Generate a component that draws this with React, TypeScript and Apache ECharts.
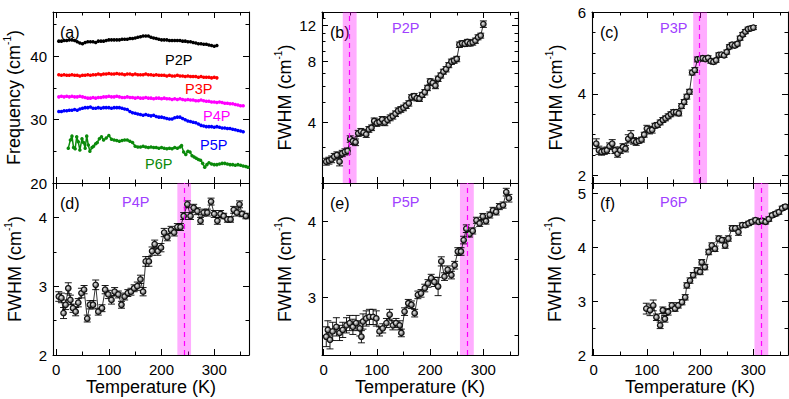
import React, { useEffect, useRef } from 'react';
import * as echarts from 'echarts';

const FONT = '"Liberation Sans", Arial, Helvetica, sans-serif';

// Temperature grid (K) used by the densely sampled series
const TEMPS = [5,10,15,20,25,30,35,40,45,50,55,60,65,70,75,80,85,90,95,100,105,110,115,120,125,130,135,140,145,150,155,160,165,170,175,180,185,190,195,200,205,210,215,220,225,230,235,240,245,250,255,260,265,270,275,280,285,290,295,300,305,310,315,320,325,330,335,340,345,350,355];

// Panel (a): frequencies (cm-1)
const P2P_FREQ = [42.4,42.4,42.5,42.5,42.6,42.6,42.5,42.3,42.1,42.0,42.2,42.3,42.3,42.3,42.2,42.4,42.4,42.4,42.5,42.6,42.6,42.6,42.6,42.6,42.7,42.7,42.7,42.8,42.8,42.9,43.0,43.1,43.2,43.2,43.2,43.0,42.9,42.8,42.7,42.6,42.6,42.6,42.5,42.5,42.5,42.5,42.5,42.4,42.4,42.3,42.3,42.2,42.1,42.0,42.0,41.9,41.9,41.8,41.7,41.6,41.7];
const P3P_FREQ = [37.1,37.0,37.1,37.0,37.0,37.1,37.0,37.0,36.9,37.0,37.0,37.1,37.0,37.1,37.1,37.2,37.1,37.2,37.2,37.3,37.2,37.2,37.3,37.2,37.2,37.1,37.2,37.2,37.1,37.2,37.1,37.1,37.1,37.2,37.1,37.1,37.0,37.1,37.0,37.0,37.0,36.9,37.0,36.9,36.9,37.0,36.9,36.9,36.8,36.9,36.8,36.8,36.8,36.7,36.8,36.7,36.7,36.7,36.6,36.7,36.6];
const P4P_FREQ = [33.6,33.7,33.6,33.7,33.6,33.7,33.6,33.6,33.7,33.6,33.5,33.4,33.4,33.5,33.4,33.5,33.5,33.6,33.6,33.7,33.6,33.6,33.7,33.6,33.5,33.5,33.6,33.5,33.5,33.4,33.5,33.4,33.4,33.5,33.4,33.4,33.3,33.4,33.4,33.3,33.4,33.3,33.3,33.2,33.3,33.2,33.3,33.2,33.1,33.2,33.1,33.1,33.0,33.0,33.1,33.0,32.9,32.9,32.8,32.8,32.7,32.8,32.7,32.6,32.6,32.5,32.5,32.4,32.3,32.2,32.2];
const P5P_FREQ = [31.3,31.3,31.4,31.4,31.5,31.5,31.6,31.5,31.7,31.8,31.9,31.9,32.0,31.8,31.8,31.9,31.8,31.9,31.9,31.9,31.8,31.9,31.9,31.9,31.8,31.7,31.6,31.3,31.1,31.0,30.9,30.8,30.7,30.8,30.7,30.6,30.7,30.5,30.4,30.4,30.3,30.2,30.1,30.1,30.3,30.4,30.4,30.2,30.0,29.8,29.7,29.6,29.5,29.3,29.1,29.0,28.9,28.9,28.9,28.8,28.9,28.8,28.7,28.7,28.6,28.6,28.5,28.4,28.3,28.2,28.1];
const P6P_FREQ = [[23,25.5],[27,26.8],[30,27.4],[33,25.6],[36,25.4],[39,27.3],[42,26.5],[45,25.2],[49,27.0],[52,26.4],[55,25.5],[58,27.4],[61,26.0],[64,25.0],[68,25.6],[71,25.8],[75,26.2],[78,26.4],[82,27.0],[86,27.3],[90,26.8],[95,27.1],[100,27.5],[105,26.9],[110,26.8],[115,26.7],[120,26.6],[125,26.7],[130,26.8],[135,26.8],[140,26.6],[145,26.4],[150,25.8],[155,25.7],[160,25.7],[165,25.8],[170,25.7],[175,25.6],[180,25.7],[185,25.6],[190,25.6],[195,25.5],[200,25.6],[205,25.5],[210,25.4],[215,25.5],[220,25.4],[225,25.6],[230,25.5],[235,25.7],[238,25.9],[242,24.9],[246,24.5],[250,25.0],[254,24.9],[258,24.3],[262,24.1],[266,23.9],[270,23.7],[274,23.6],[278,23.1],[282,22.5],[286,22.9],[290,23.2],[295,23.0],[300,22.9],[305,22.9],[310,23.0],[315,23.1],[320,23.1],[325,23.0],[330,22.9],[335,22.9],[340,22.8],[345,22.9],[350,22.8],[355,22.7],[360,22.6],[364,22.5]];

// Panel (b): P2P FWHM and error (on TEMPS, 5..300 K)
const P2P_FWHM = [2.55,2.58,2.62,2.70,2.75,2.55,2.80,2.85,2.88,3.30,3.22,3.18,3.52,3.60,3.55,3.48,3.68,3.75,4.05,3.95,4.00,4.12,3.98,4.10,4.20,4.28,4.40,4.55,4.62,4.70,4.82,4.95,5.30,5.38,5.25,5.22,5.45,5.62,5.90,6.35,6.25,6.05,6.55,6.80,7.10,7.30,7.65,7.95,8.05,8.20,9.65,9.80,9.75,9.95,9.80,9.90,10.10,10.50,10.70,12.20];
const P2P_ERR = [0.1,0.1,0.1,0.1,0.1,0.12,0.1,0.1,0.1,0.12,0.12,0.12,0.12,0.12,0.12,0.12,0.12,0.12,0.14,0.14,0.14,0.14,0.14,0.14,0.14,0.14,0.14,0.15,0.15,0.15,0.15,0.15,0.16,0.16,0.16,0.16,0.16,0.17,0.18,0.2,0.2,0.2,0.2,0.2,0.2,0.22,0.22,0.24,0.24,0.25,0.3,0.3,0.3,0.3,0.3,0.3,0.3,0.3,0.3,0.45];

// Panel (c): P3P FWHM and error (on TEMPS, 5..300 K)
const P3P_FWHM = [2.78,2.62,2.58,2.60,2.62,2.72,2.78,2.62,2.53,2.62,2.70,2.66,2.90,2.98,2.85,2.82,2.85,2.88,3.00,3.15,3.10,3.12,3.22,3.24,3.30,3.36,3.40,3.45,3.50,3.55,3.55,3.52,3.70,3.80,3.93,4.05,4.52,4.58,4.84,4.86,4.87,4.85,4.88,4.80,4.78,4.82,4.95,4.96,4.94,5.02,5.15,5.20,5.18,5.22,5.36,5.45,5.52,5.58,5.60,5.62];
const P3P_ERR = [0.12,0.1,0.08,0.08,0.08,0.08,0.1,0.08,0.08,0.08,0.08,0.08,0.1,0.12,0.08,0.08,0.06,0.06,0.06,0.08,0.08,0.08,0.06,0.06,0.06,0.06,0.06,0.06,0.06,0.06,0.06,0.06,0.06,0.06,0.06,0.06,0.06,0.06,0.06,0.05,0.05,0.05,0.05,0.05,0.05,0.05,0.05,0.05,0.05,0.05,0.05,0.05,0.05,0.05,0.05,0.05,0.05,0.05,0.05,0.05];

// Panels (d)-(f): [T, FWHM, error]
const P4P_FWHM = [[5,2.85,0.07],[10,2.83,0.07],[14,2.61,0.08],[18,2.73,0.07],[23,2.97,0.08],[27,2.80,0.07],[32,2.68,0.06],[37,2.63,0.06],[42,2.76,0.06],[48,2.90,0.07],[53,2.95,0.06],[59,2.53,0.05],[64,2.73,0.06],[70,2.73,0.06],[75,3.02,0.07],[80,2.63,0.05],[87,2.68,0.05],[93,2.95,0.06],[99,2.88,0.06],[105,2.80,0.06],[111,2.92,0.06],[118,2.88,0.05],[124,2.73,0.05],[130,2.85,0.05],[136,2.90,0.05],[142,2.92,0.05],[148,2.97,0.05],[154,3.00,0.06],[160,3.10,0.06],[165,2.92,0.06],[170,3.36,0.07],[176,3.36,0.07],[182,3.51,0.06],[187,3.61,0.06],[193,3.51,0.06],[199,3.56,0.06],[205,3.78,0.06],[211,3.71,0.05],[218,3.82,0.05],[224,3.78,0.05],[230,3.86,0.05],[236,3.86,0.05],[242,4.02,0.05],[249,4.19,0.05],[255,4.02,0.05],[261,4.14,0.05],[268,4.09,0.05],[274,3.95,0.05],[280,4.07,0.05],[287,4.07,0.05],[294,4.23,0.05],[300,4.05,0.05],[306,3.95,0.05],[312,4.05,0.05],[318,4.02,0.04],[325,3.97,0.04],[331,3.97,0.04],[337,4.11,0.05],[343,4.07,0.05],[348,4.19,0.05],[353,4.05,0.04],[360,4.02,0.04]];
const P5P_FWHM = [[5,2.48,0.13],[8,2.57,0.12],[12,2.44,0.12],[17,2.55,0.12],[24,2.61,0.12],[30,2.53,0.1],[36,2.57,0.1],[43,2.63,0.1],[49,2.66,0.1],[55,2.61,0.1],[61,2.66,0.1],[68,2.59,0.1],[71,2.48,0.08],[74,2.68,0.1],[80,2.72,0.1],[86,2.74,0.1],[93,2.74,0.1],[99,2.72,0.1],[105,2.55,0.06],[111,2.59,0.06],[118,2.66,0.06],[124,2.77,0.07],[130,2.63,0.06],[136,2.66,0.06],[143,2.63,0.06],[146,2.53,0.05],[152,2.81,0.05],[159,2.92,0.05],[165,2.90,0.05],[171,2.79,0.05],[177,3.03,0.05],[183,3.05,0.05],[190,3.12,0.05],[196,3.18,0.05],[202,3.25,0.05],[208,3.20,0.06],[215,3.14,0.12],[221,3.47,0.06],[227,3.27,0.05],[233,3.36,0.05],[240,3.29,0.05],[246,3.42,0.05],[252,3.60,0.05],[258,3.60,0.05],[263,3.75,0.05],[268,3.90,0.05],[274,3.83,0.04],[280,3.87,0.04],[287,4.01,0.04],[293,3.97,0.04],[299,4.06,0.04],[305,4.00,0.04],[312,4.08,0.04],[318,4.14,0.04],[324,4.12,0.04],[330,4.19,0.04],[337,4.21,0.04],[343,4.38,0.05],[348,4.30,0.05]];
const P6P_FWHM = [[99,2.86,0.1],[106,2.83,0.1],[112,2.92,0.1],[118,2.70,0.06],[125,2.55,0.06],[130,2.83,0.06],[134,2.67,0.06],[140,2.80,0.06],[147,2.92,0.05],[153,2.86,0.05],[159,2.92,0.05],[166,2.98,0.05],[172,3.07,0.05],[175,3.29,0.05],[181,3.38,0.05],[187,3.48,0.05],[194,3.57,0.05],[200,3.54,0.05],[203,3.72,0.05],[209,3.63,0.05],[216,3.91,0.05],[222,4.03,0.05],[228,3.97,0.05],[235,4.16,0.05],[241,4.13,0.05],[247,4.03,0.05],[253,4.16,0.05],[260,4.35,0.05],[266,4.35,0.05],[272,4.28,0.06],[279,4.41,0.04],[285,4.41,0.04],[291,4.44,0.04],[297,4.47,0.04],[304,4.50,0.04],[310,4.47,0.04],[316,4.49,0.04],[323,4.47,0.04],[329,4.52,0.04],[335,4.59,0.04],[342,4.62,0.04],[348,4.65,0.04],[354,4.72,0.04],[360,4.75,0.04]];

// Transition bands [low, high] and centre (K) for panels b..f
const BANDS = [[36, 62], [187, 213], [230, 256], [256, 282], [302, 328]];
const TRANSITIONS = [49, 199, 243, 269, 315];

const X_MAJOR = [0, 100, 200, 300];
const X_MINOR = [50, 150, 250, 350];

const GRIDS = [
  { left: 53, top: 12, width: 196, height: 171 },
  { left: 322, top: 12, width: 196, height: 171 },
  { left: 592, top: 12, width: 196, height: 171 },
  { left: 53, top: 183, width: 196, height: 172 },
  { left: 322, top: 183, width: 196, height: 172 },
  { left: 592, top: 183, width: 196, height: 172 },
];

const PANELS: any[] = [
  { xr: [-6, 366], yType: 'value', yr: [20, 47], yMajor: [20, 30, 40], yMinor: [25, 35, 45], yTitle: 'Frequency (cm', yGap: 30, xLabels: false },
  { xr: [-3, 365], yType: 'log', yr: [2, 14], yMajor: [4, 8, 12], yMinor: [2, 3, 5, 6, 7, 9, 10, 11, 13, 14], yTitle: 'FWHM (cm', yGap: 28, xLabels: false },
  { xr: [-3, 365], yType: 'value', yr: [1.82, 6], yMajor: [2, 4, 6], yMinor: [2.5, 3, 3.5, 4.5, 5, 5.5], yTitle: 'FWHM (cm', yGap: 27, xLabels: false },
  { xr: [-6, 366], yType: 'value', yr: [2, 4.5], yMajor: [2, 3, 4], yMinor: [2.5, 3.5, 4.5], yTitle: 'FWHM (cm', yGap: 29, xLabels: true },
  { xr: [-3, 365], yType: 'value', yr: [2.24, 4.5], yMajor: [3, 4], yMinor: [2.5, 3.5, 4.5], yTitle: 'FWHM (cm', yGap: 28, xLabels: true },
  { xr: [-3, 365], yType: 'value', yr: [2, 5.19], yMajor: [2, 3, 4, 5], yMinor: [2.5, 3.5, 4.5], yTitle: 'FWHM (cm', yGap: 28, xLabels: true },
];

const BLACK = '#000';
const VIOLET = '#a040ff';

function makeAxis(dim: 'x' | 'y', p: any, gi: number, position: string, major: boolean, main: boolean) {
  const isX = dim === 'x';
  const range = isX ? p.xr : p.yr;
  const ticks = isX ? (major ? X_MAJOR : X_MINOR) : (major ? p.yMajor : p.yMinor);
  const showLabels = main && (isX ? p.xLabels : true);
  const ax: any = {
    type: isX ? 'value' : p.yType,
    gridIndex: gi,
    position,
    min: range[0],
    max: range[1],
    silent: true,
    axisLine: { show: major, onZero: false, lineStyle: { color: BLACK, width: 1.1 } },
    axisTick: { show: true, inside: true, length: major ? 6 : 3.5, customValues: ticks, lineStyle: { color: BLACK, width: 1 } },
    axisLabel: showLabels
      ? { show: true, customValues: isX ? X_MAJOR : p.yMajor, color: BLACK, fontSize: 15, fontFamily: FONT, margin: isX ? 7 : 6 }
      : { show: false },
    splitLine: { show: false },
    minorTick: { show: false },
    minorSplitLine: { show: false },
    axisPointer: { show: false },
  };
  if (p.yType === 'log' && !isX) ax.logBase = 10;
  if (main && isX && p.xLabels) {
    ax.name = 'Temperature (K)';
    ax.nameLocation = 'middle';
    ax.nameGap = 23;
    ax.nameTextStyle = { color: BLACK, fontSize: 18, fontFamily: FONT };
  }
  if (main && !isX) {
    ax.name = '{t|' + p.yTitle + '}{s|-1}{t|)}';
    ax.nameLocation = 'middle';
    ax.nameGap = p.yGap;
    ax.nameTextStyle = {
      color: BLACK,
      fontFamily: FONT,
      rich: {
        t: { fontSize: 18, fontFamily: FONT, color: BLACK, lineHeight: 21, verticalAlign: 'bottom' },
        s: { fontSize: 10, fontFamily: FONT, color: BLACK, lineHeight: 21, verticalAlign: 'top' },
      },
    };
  }
  return ax;
}

function errorBarSeries(xi: number, yi: number, data: number[][]) {
  return {
    type: 'custom',
    xAxisIndex: xi,
    yAxisIndex: yi,
    z: 3,
    silent: true,
    encode: { x: 0, y: 1 },
    data,
    renderItem: (params: any, api: any) => {
      const x = api.value(0);
      const y = api.value(1);
      const e = api.value(2);
      const top = api.coord([x, y + e]);
      const bot = api.coord([x, y - e]);
      const w = 3.5;
      const style = { stroke: BLACK, lineWidth: 0.9 };
      return {
        type: 'group',
        children: [
          { type: 'line', shape: { x1: top[0], y1: top[1], x2: bot[0], y2: bot[1] }, style },
          { type: 'line', shape: { x1: top[0] - w, y1: top[1], x2: top[0] + w, y2: top[1] }, style },
          { type: 'line', shape: { x1: bot[0] - w, y1: bot[1], x2: bot[0] + w, y2: bot[1] }, style },
        ],
      };
    },
  };
}

const MARKER_FILL = new echarts.graphic.RadialGradient(0.4, 0.4, 0.6, [
  { offset: 0, color: '#f0f0f0' },
  { offset: 1, color: '#444444' },
]);

function fwhmSeries(panel: number, triples: number[][], bandIdx: number) {
  const xi = panel * 4;
  const yi = panel * 4;
  return [
    {
      type: 'line',
      xAxisIndex: xi,
      yAxisIndex: yi,
      data: [],
      z: 1,
      silent: true,
      markArea: {
        silent: true,
        itemStyle: { color: 'rgba(255,0,255,0.32)' },
        label: { show: false },
        data: [[{ xAxis: BANDS[bandIdx][0] }, { xAxis: BANDS[bandIdx][1] }]],
      },
      markLine: {
        silent: true,
        symbol: 'none',
        label: { show: false },
        lineStyle: { color: '#ff00ff', type: [5, 4], width: 1.2 },
        data: [{ xAxis: TRANSITIONS[bandIdx] }],
      },
    },
    errorBarSeries(xi, yi, triples),
    {
      type: 'line',
      xAxisIndex: xi,
      yAxisIndex: yi,
      z: 4,
      silent: true,
      data: triples.map((d) => [d[0], d[1]]),
      symbol: 'circle',
      symbolSize: 5.5,
      showSymbol: true,
      lineStyle: { color: BLACK, width: 0.8 },
      itemStyle: { color: MARKER_FILL, borderColor: '#111', borderWidth: 1.2 },
    },
  ];
}

function freqSeries(data: number[][], color: string) {
  return {
    type: 'line',
    xAxisIndex: 0,
    yAxisIndex: 0,
    z: 3,
    silent: true,
    data,
    symbol: 'circle',
    symbolSize: 3.5,
    lineStyle: { color, width: 1.5 },
    itemStyle: { color },
  };
}

function txt(text: string, x: number, y: number, fill: string, size: number) {
  return {
    type: 'text',
    x,
    y,
    silent: true,
    style: { text, fill, fontSize: size, fontFamily: FONT, align: 'left', verticalAlign: 'middle', textAlign: 'left', textVerticalAlign: 'middle' },
  };
}

export default function App() {
  const ref = useRef<HTMLDivElement>(null);
  useEffect(() => {
    if (!ref.current) return;
    const chart = echarts.init(ref.current, undefined, { renderer: 'svg' });

    const xAxis: any[] = [];
    const yAxis: any[] = [];
    PANELS.forEach((p, gi) => {
      xAxis.push(makeAxis('x', p, gi, 'bottom', true, true));
      xAxis.push(makeAxis('x', p, gi, 'bottom', false, false));
      xAxis.push(makeAxis('x', p, gi, 'top', true, false));
      xAxis.push(makeAxis('x', p, gi, 'top', false, false));
      yAxis.push(makeAxis('y', p, gi, 'left', true, true));
      yAxis.push(makeAxis('y', p, gi, 'left', false, false));
      yAxis.push(makeAxis('y', p, gi, 'right', true, false));
      yAxis.push(makeAxis('y', p, gi, 'right', false, false));
    });

    const bTriples = P2P_FWHM.map((v, i) => [TEMPS[i], v, P2P_ERR[i]]);
    const cTriples = P3P_FWHM.map((v, i) => [TEMPS[i], v, P3P_ERR[i]]);

    const series: any[] = [
      freqSeries(P2P_FREQ.map((v, i) => [TEMPS[i], v]), '#000000'),
      freqSeries(P3P_FREQ.map((v, i) => [TEMPS[i], v]), '#ff0000'),
      freqSeries(P4P_FREQ.map((v, i) => [TEMPS[i], v]), '#ff00ff'),
      freqSeries(P5P_FREQ.map((v, i) => [TEMPS[i], v]), '#0000ff'),
      freqSeries(P6P_FREQ, '#0a8a0a'),
      ...fwhmSeries(1, bTriples, 0),
      ...fwhmSeries(2, cTriples, 1),
      ...fwhmSeries(3, P4P_FWHM, 2),
      ...fwhmSeries(4, P5P_FWHM, 3),
      ...fwhmSeries(5, P6P_FWHM, 4),
    ];

    const graphic = [
      txt('(a)', 60, 32, BLACK, 16),
      txt('P2P', 165, 60, '#000000', 14.5),
      txt('P3P', 185, 89, '#ff0000', 14.5),
      txt('P4P', 203, 116, '#ff00ff', 14.5),
      txt('P5P', 200, 145, '#0000ff', 14.5),
      txt('P6P', 145, 164, '#0a8a0a', 14.5),
      txt('(b)', 330, 32, BLACK, 16),
      txt('P2P', 392, 28, VIOLET, 14.5),
      txt('(c)', 600, 32, BLACK, 16),
      txt('P3P', 660, 28, VIOLET, 14.5),
      txt('(d)', 60, 203, BLACK, 16),
      txt('P4P', 122, 202, VIOLET, 14.5),
      txt('(e)', 330, 203, BLACK, 16),
      txt('P5P', 392, 202, VIOLET, 14.5),
      txt('(f)', 600, 203, BLACK, 16),
      txt('P6P', 660, 202, VIOLET, 14.5),
    ];

    chart.setOption({
      animation: false,
      backgroundColor: '#ffffff',
      grid: GRIDS.map((g) => ({ ...g, containLabel: false })),
      xAxis,
      yAxis,
      series,
      graphic,
    });
    return () => chart.dispose();
  }, []);
  return <div ref={ref} style={{ position: 'fixed', left: 0, top: 0, width: 789, height: 399 }} />;
}
